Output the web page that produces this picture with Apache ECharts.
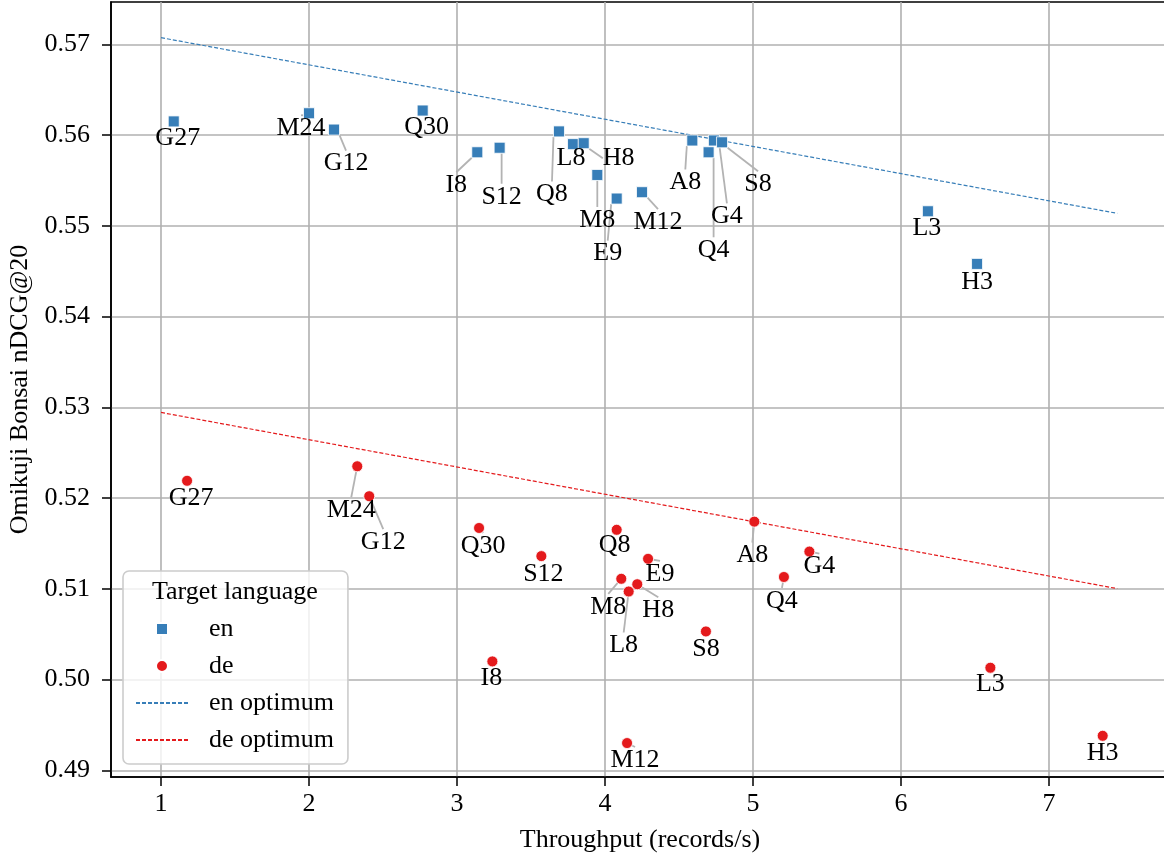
<!DOCTYPE html>
<html>
<head>
<meta charset="utf-8">
<script src="https://cdn.jsdelivr.net/npm/echarts@6/dist/echarts.min.js"></script>
<style>
html,body{margin:0;padding:0;background:#fff;}
#chart{width:1164px;height:856px;}
</style>
</head>
<body>
<div id="chart"></div>
<script>
// ---- data ----
const enNames = ['G27','M24','G12','Q30','I8','S12','Q8','L8','H8','M8','E9','M12','A8','Q4','G4','S8','L3','H3'];
const enX = [1.086, 2.000, 2.169, 2.768, 3.137, 3.288, 3.689, 3.784, 3.856, 3.948, 4.079, 4.250, 4.590, 4.700, 4.736, 4.791, 6.182, 6.514];
const enY = [0.5615, 0.5624, 0.5606, 0.5627, 0.5581, 0.5586, 0.5604, 0.5590, 0.5591, 0.5556, 0.5530, 0.5537, 0.5594, 0.5581, 0.5594, 0.5592, 0.5516, 0.5458];

const deNames = ['G27','M24','G12','Q30','S12','I8','Q8','E9','M8','H8','L8','S8','A8','Q4','G4','M12','L3','H3'];
const deX = [1.176, 2.326, 2.407, 3.149, 3.570, 3.239, 4.079, 4.291, 4.110, 4.218, 4.160, 4.682, 5.009, 5.209, 5.381, 4.149, 6.604, 7.363];
const deY = [0.5219, 0.5235, 0.5202, 0.5167, 0.5136, 0.5020, 0.5165, 0.5133, 0.5111, 0.5105, 0.5097, 0.5053, 0.5174, 0.5113, 0.5141, 0.4930, 0.5013, 0.4938];

const enOptX = [1.0, 7.461];
const enOptY = [0.57073, 0.55137];
const deOptX = [1.0, 7.461];
const deOptY = [0.52943, 0.51002];

const xTicks = [1, 2, 3, 4, 5, 6, 7];
const yTicks = [0.49, 0.50, 0.51, 0.52, 0.53, 0.54, 0.55, 0.56, 0.57];

// ---- label offsets (pixels, layout only) ----
const enLabelOffsets = [[4,17],[-8,15],[12,34],[4,17],[-21,33],[2,49],[-7,63],[-2,14],[35,15],[0,45],[-9,55],[16,30],[-7,42],[5,98],[13,76],[36,42],[-1,17],[0,18]];
const deLabelOffsets = [[4,17],[-6,44],[14,46],[4,18],[2,18],[-1,17],[-2,15],[12,15],[-13,28],[21,26],[-5,54],[0,18],[-2,34],[-2,24],[10,15],[8,17],[0,16],[0,17]];

const FONT = '"Liberation Serif", "Times New Roman", serif';
const FS = 26;
const BLUE = '#377eb8';
const RED = '#e41a1c';

function pts(names, xs, ys) {
  return names.map((n, i) => ({ name: n, value: [xs[i], ys[i]] }));
}
function linePts(xs, ys) {
  return xs.map((x, i) => [x, ys[i]]);
}
const offsetsBySeries = [enLabelOffsets, deLabelOffsets];

const chart = echarts.init(document.getElementById('chart'), null, { renderer: 'canvas' });

const labelCfg = {
  show: true,
  position: 'inside',
  formatter: p => p.name,
  color: '#000',
  fontSize: FS,
  fontFamily: FONT
};
const labelLineCfg = {
  show: true,
  lineStyle: { color: '#b3b3b3', width: 1.8 }
};
const hiddenSym = { color: 'rgba(0,0,0,0)', opacity: 0, borderWidth: 0 };

chart.setOption({
  animation: false,
  backgroundColor: '#fff',
  textStyle: { fontFamily: FONT },
  grid: {
    left: 111, top: 2, right: -5, bottom: 79,
    outerBoundsMode: 'none',
    containLabel: false,
    show: true, borderColor: '#000', borderWidth: 1.6, backgroundColor: 'transparent'
  },
  xAxis: {
    type: 'value',
    min: 0.662, max: 7.811,
    splitNumber: 7,
    name: 'Throughput (records/s)',
    nameLocation: 'middle',
    nameGap: 50,
    nameTextStyle: { color: '#000', fontSize: FS, fontFamily: FONT },
    axisLine: { show: true, onZero: false, lineStyle: { color: '#000', width: 1.6 } },
    axisTick: { show: true, inside: false, length: 9, customValues: xTicks, lineStyle: { color: '#000', width: 1.5 } },
    axisLabel: { customValues: xTicks, margin: 14, color: '#000', fontSize: FS, fontFamily: FONT, formatter: v => String(v) },
    splitLine: { show: true, lineStyle: { color: '#b0b0b0', width: 1.6 } }
  },
  yAxis: {
    type: 'value',
    min: 0.48926, max: 0.57466,
    splitNumber: 8,
    name: 'Omikuji Bonsai nDCG@20',
    nameLocation: 'middle',
    nameRotate: 90,
    nameGap: 75,
    nameTextStyle: { color: '#000', fontSize: FS, fontFamily: FONT },
    axisLine: { show: true, onZero: false, lineStyle: { color: '#000', width: 1.6 } },
    axisTick: { show: true, inside: false, length: 9, customValues: yTicks, lineStyle: { color: '#000', width: 1.5 } },
    axisLabel: { customValues: yTicks, margin: 21, color: '#000', fontSize: FS, fontFamily: FONT, formatter: v => v.toFixed(2) },
    splitLine: { show: true, lineStyle: { color: '#b0b0b0', width: 1.6 } }
  },
  legend: {
    orient: 'vertical',
    left: 123, top: 571,
    padding: [45, 14, 11, 12],
    itemWidth: 52,
    itemHeight: 12,
    itemGap: 11,
    backgroundColor: 'rgba(255,255,255,0.8)',
    borderColor: '#cccccc',
    borderWidth: 1.6,
    borderRadius: 6,
    selectedMode: false,
    textStyle: { color: '#000', fontSize: FS, fontFamily: FONT, lineHeight: 26, padding: [0, 0, 0, 16] },
    data: [
      { name: 'en', icon: 'path://M0,0L10,0L10,10L0,10Z' },
      { name: 'de', icon: 'circle' },
      { name: 'en optimum', itemStyle: hiddenSym },
      { name: 'de optimum', itemStyle: hiddenSym }
    ],
    z: 20
  },
  graphic: [{
    type: 'text',
    x: 152, y: 592,
    z: 100,
    style: { text: 'Target language', font: FS + 'px ' + FONT, fill: '#000', verticalAlign: 'middle', align: 'left' }
  }],
  series: [
    {
      name: 'en', type: 'scatter', symbol: 'rect', symbolSize: 11,
      itemStyle: { color: BLUE, opacity: 1, borderColor: '#fff', borderWidth: 0.8 },
      data: pts(enNames, enX, enY),
      label: labelCfg, labelLine: labelLineCfg,
      labelLayout: p => ({ dx: offsetsBySeries[0][p.dataIndex][0], dy: offsetsBySeries[0][p.dataIndex][1] }),
      emphasis: { disabled: true }, z: 3
    },
    {
      name: 'de', type: 'scatter', symbol: 'circle', symbolSize: 11,
      itemStyle: { color: RED, opacity: 1, borderColor: '#fff', borderWidth: 0.8 },
      data: pts(deNames, deX, deY),
      label: labelCfg, labelLine: labelLineCfg,
      labelLayout: p => ({ dx: offsetsBySeries[1][p.dataIndex][0], dy: offsetsBySeries[1][p.dataIndex][1] }),
      emphasis: { disabled: true }, z: 3
    },
    {
      name: 'en optimum', type: 'line', symbol: 'none', showSymbol: false,
      data: linePts(enOptX, enOptY),
      itemStyle: { color: BLUE },
      lineStyle: { color: BLUE, width: 1.2, type: [4, 2] },
      emphasis: { disabled: true }, z: 2
    },
    {
      name: 'de optimum', type: 'line', symbol: 'none', showSymbol: false,
      data: linePts(deOptX, deOptY),
      itemStyle: { color: RED },
      lineStyle: { color: RED, width: 1.2, type: [4, 2] },
      emphasis: { disabled: true }, z: 2
    }
  ]
});
</script>
</body>
</html>
